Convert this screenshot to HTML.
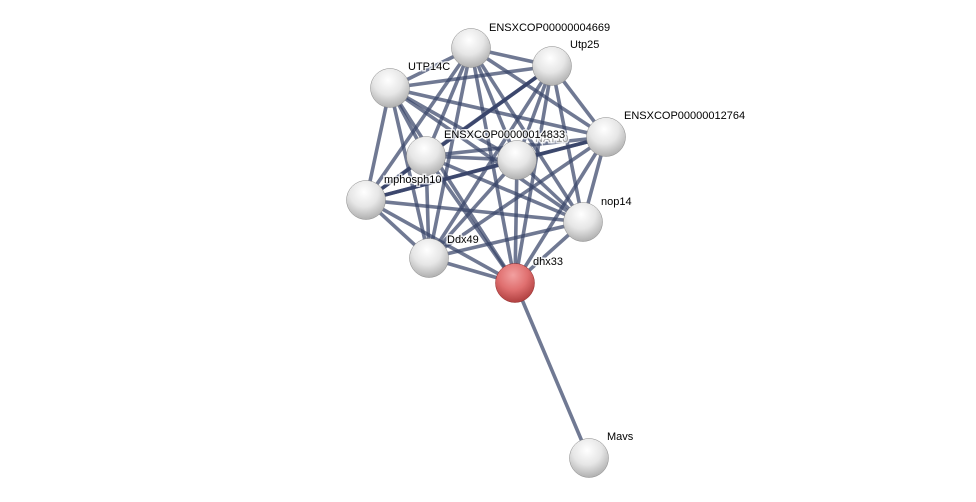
<!DOCTYPE html>
<html><head><meta charset="utf-8"><style>
html,body{margin:0;padding:0;background:#fff;}
svg{display:block}
text{font-family:"Liberation Sans",sans-serif;font-size:11px;fill:#000;paint-order:stroke;stroke:#fff;stroke-width:3px;stroke-opacity:0.8}
</style></head><body>
<svg width="976" height="502" viewBox="0 0 976 502" xmlns="http://www.w3.org/2000/svg">
<defs>
<radialGradient id="gw" cx="0.45" cy="0.3" r="0.75">
<stop offset="0" stop-color="#ffffff"/><stop offset="0.5" stop-color="#e6e6e6"/><stop offset="1" stop-color="#a8a8a8"/></radialGradient>
<radialGradient id="gr" cx="0.45" cy="0.3" r="0.75">
<stop offset="0" stop-color="#f2a0a0"/><stop offset="0.5" stop-color="#e07070"/><stop offset="1" stop-color="#a83838"/></radialGradient>
</defs>
<g stroke="#39456a" stroke-width="3.6" stroke-opacity="0.72" stroke-linecap="butt">
<line x1="471" y1="48" x2="552" y2="66"/>
<line x1="471" y1="48" x2="390" y2="88"/>
<line x1="471" y1="48" x2="606" y2="137"/>
<line x1="471" y1="48" x2="426" y2="156"/>
<line x1="471" y1="48" x2="517" y2="160"/>
<line x1="471" y1="48" x2="366" y2="200"/>
<line x1="471" y1="48" x2="583" y2="222"/>
<line x1="471" y1="48" x2="429" y2="258"/>
<line x1="471" y1="48" x2="515" y2="283"/>
<line x1="552" y1="66" x2="390" y2="88"/>
<line x1="552" y1="66" x2="606" y2="137"/>
<line x1="552" y1="66" x2="426" y2="156"/>
<line x1="552" y1="66" x2="517" y2="160"/>
<line x1="552" y1="66" x2="366" y2="200" stroke-opacity="0.95"/>
<line x1="552" y1="66" x2="583" y2="222"/>
<line x1="552" y1="66" x2="429" y2="258"/>
<line x1="552" y1="66" x2="515" y2="283"/>
<line x1="390" y1="88" x2="606" y2="137"/>
<line x1="390" y1="88" x2="426" y2="156"/>
<line x1="390" y1="88" x2="517" y2="160"/>
<line x1="390" y1="88" x2="366" y2="200"/>
<line x1="390" y1="88" x2="583" y2="222"/>
<line x1="390" y1="88" x2="429" y2="258"/>
<line x1="390" y1="88" x2="515" y2="283"/>
<line x1="606" y1="137" x2="426" y2="156"/>
<line x1="606" y1="137" x2="517" y2="160" stroke-opacity="0.95"/>
<line x1="606" y1="137" x2="366" y2="200"/>
<line x1="606" y1="137" x2="583" y2="222"/>
<line x1="606" y1="137" x2="429" y2="258"/>
<line x1="606" y1="137" x2="515" y2="283"/>
<line x1="426" y1="156" x2="517" y2="160"/>
<line x1="426" y1="156" x2="366" y2="200"/>
<line x1="426" y1="156" x2="583" y2="222"/>
<line x1="426" y1="156" x2="429" y2="258"/>
<line x1="426" y1="156" x2="515" y2="283"/>
<line x1="517" y1="160" x2="366" y2="200" stroke-opacity="0.95"/>
<line x1="517" y1="160" x2="583" y2="222"/>
<line x1="517" y1="160" x2="429" y2="258"/>
<line x1="517" y1="160" x2="515" y2="283"/>
<line x1="366" y1="200" x2="583" y2="222"/>
<line x1="366" y1="200" x2="429" y2="258"/>
<line x1="366" y1="200" x2="515" y2="283"/>
<line x1="583" y1="222" x2="429" y2="258"/>
<line x1="583" y1="222" x2="515" y2="283"/>
<line x1="429" y1="258" x2="515" y2="283"/>
<line x1="515" y1="283" x2="589" y2="458"/>
</g>
<g stroke="#888" stroke-width="0.5">
<circle cx="471" cy="48" r="19.5" fill="url(#gw)"/>
<circle cx="552" cy="66" r="19.5" fill="url(#gw)"/>
<circle cx="390" cy="88" r="19.5" fill="url(#gw)"/>
<circle cx="606" cy="137" r="19.5" fill="url(#gw)"/>
<circle cx="426" cy="156" r="19.5" fill="url(#gw)"/>
<circle cx="517" cy="160" r="19.5" fill="url(#gw)"/>
<circle cx="366" cy="200" r="19.5" fill="url(#gw)"/>
<circle cx="583" cy="222" r="19.5" fill="url(#gw)"/>
<circle cx="429" cy="258" r="19.5" fill="url(#gw)"/>
<circle cx="515" cy="283" r="19.5" fill="url(#gw)" style="fill:url(#gr);stroke:#902828"/>
<circle cx="589" cy="458" r="19.5" fill="url(#gw)"/>
</g>
<text x="489" y="31">ENSXCOP00000004669</text>
<text x="570" y="48">Utp25</text>
<text x="408" y="70">UTP14C</text>
<text x="624" y="119">ENSXCOP00000012764</text>
<text x="535" y="142" style="fill:#999">NAT10</text>
<text x="444" y="138">ENSXCOP00000014833</text>
<text x="384" y="183">mphosph10</text>
<text x="601" y="205">nop14</text>
<text x="447" y="243">Ddx49</text>
<text x="533" y="265">dhx33</text>
<text x="607" y="440">Mavs</text>
</svg>
</body></html>
